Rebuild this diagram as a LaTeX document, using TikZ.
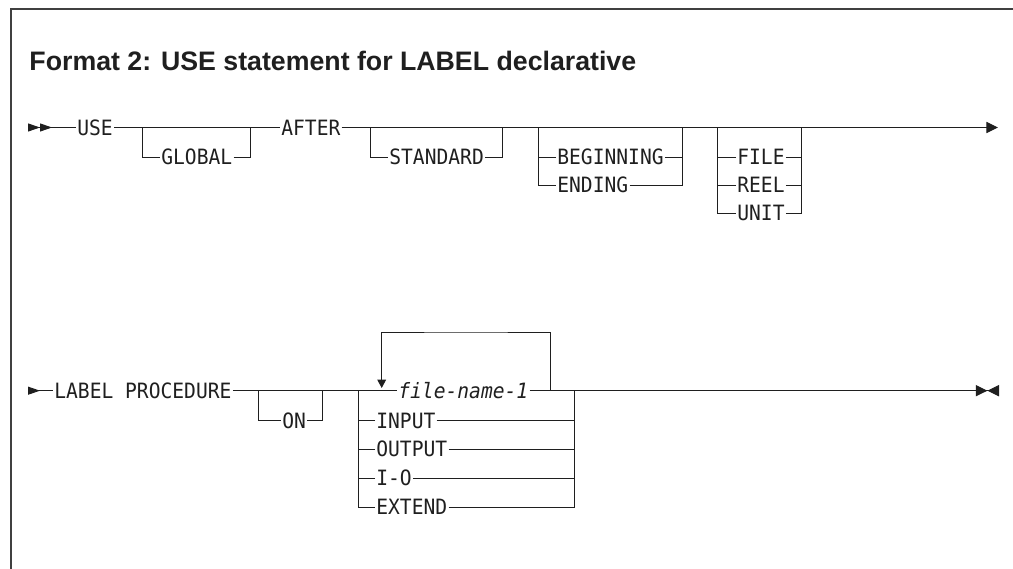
\documentclass[tikz,border=0pt]{standalone}
\usepackage{fontspec}
\setmainfont{Liberation Sans}
\newfontfamily\railfont{DejaVu Sans Mono}[FakeStretch=0.93, ItalicFont={DejaVu Sans Mono Oblique}]
\usepackage{tikz}
\usetikzlibrary{
  arrows.meta   % Triangle tips at the ends of the rails
}

\tikzset{
  railtip/.tip={Triangle[length=0.29cm,width=0.28cm]},
  railback/.tip={Triangle[reversed,length=0.3cm,width=0.2cm]},
  endback/.tip={Triangle[reversed,length=0.29cm,width=0.28cm]},
  looptip/.tip={Triangle[length=0.21cm,width=0.22cm]},
  kw/.style={font=\railfont\fontsize{15pt}{17pt}\selectfont,
    inner xsep=0.6pt, inner ysep=0pt, text height=10.9pt, text depth=0pt,
    anchor=west},
  title/.style={font=\bfseries\fontsize{19pt}{22pt}\selectfont,
    inner sep=0pt, anchor=base west},
  frame/.style={line width=0.9pt, black!75}
}

\begin{document}
\begin{tikzpicture}[x=0.025cm, y=-0.025cm, line width=0.7pt, color=black!88]
  \useasboundingbox (0,0) rectangle (1013,569);

  % Frame, cut off on the right and at the bottom
  \draw[frame] (11,569) -- (11,9) -- (1013,9);

  % Heading
  \node[title] (head) at (29,71) {Format 2: USE statement for LABEL declarative};

  % ---- first rail ----
  \coordinate (start1) at (28,127.5);
  \coordinate (end1) at (998,127.5);
  \node[kw] (use) at (76,127.5) {USE};
  \node[kw] (global) at (160,157) {GLOBAL};
  \node[kw] (after) at (280,127.5) {AFTER};
  \node[kw] (standard) at (388,157) {STANDARD};
  \node[kw] (beginning) at (556,157) {BEGINNING};
  \node[kw] (ending) at (556,185) {ENDING};
  \node[kw] (file) at (736,157) {FILE};
  \node[kw] (reel) at (736,185) {REEL};
  \node[kw] (unit) at (736,213) {UNIT};

  % Junctions on the main line
  \coordinate (g1) at (142.7,127.5);
  \coordinate (g2) at (250,127.5);
  \coordinate (s1) at (370,127.5);
  \coordinate (s2) at (502,127.5);
  \coordinate (b1) at (538,127.5);
  \coordinate (b2) at (682,127.5);
  \coordinate (f1) at (717,127.5);
  \coordinate (f2) at (801,127.5);

  % Main line
  \draw[{railback[]railback[]}-] (start1) -- (use.west);
  \draw (use.east) -- (after.west);
  \draw[-{railtip}] (after.east) -- (end1);

  % Optional GLOBAL and STANDARD
  \draw (g1) |- (global.west);
  \draw (global.east) -| (g2);
  \draw (s1) |- (standard.west);
  \draw (standard.east) -| (s2);

  % BEGINNING / ENDING
  \draw (b1) |- (ending.west);
  \draw (ending.east) -| (b2);
  \draw (beginning.west) -- (beginning.west -| b1);
  \draw (beginning.east) -- (beginning.east -| b2);

  % FILE / REEL / UNIT
  \draw (f1) |- (unit.west);
  \draw (unit.east) -| (f2);
  \foreach \n in {file,reel} {
    \draw (\n.west) -- (\n.west -| f1);
    \draw (\n.east) -- (\n.east -| f2);
  }

  % ---- second rail ----
  \coordinate (start2) at (28,390.7);
  \coordinate (end2) at (999,390.7);
  \node[kw] (label) at (53,390.7) {LABEL PROCEDURE};
  \node[kw] (on) at (281,420.7) {ON};
  \node[kw] (fname) at (397,390.7) {\itshape file-name-1};
  \node[kw] (input) at (375,420.7) {INPUT};
  \node[kw] (output) at (375,449) {OUTPUT};
  \node[kw] (io) at (375,478) {I-O};
  \node[kw] (extend) at (375,507) {EXTEND};

  % Junctions on the main line
  \coordinate (o1) at (258,390.7);
  \coordinate (o2) at (322,390.7);
  \coordinate (c1) at (358,390.7);
  \coordinate (c2) at (574,390.7);
  \coordinate (loopr) at (550,390.7);
  \coordinate (looptop) at (466,332);
  \coordinate (loopl) at (381.7,388);

  % Main line
  \draw[{railback[]}-] (start2) -- (label.west);
  \draw (label.east) -- (fname.west);
  \draw[-{railtip[]endback[]}] (fname.east) -- (end2);

  % Optional ON
  \draw (o1) |- (on.west);
  \draw (on.east) -| (o2);

  % Choice of files, file-name-1 may repeat
  \draw (c1) |- (extend.west);
  \draw (extend.east) -| (c2);
  \foreach \n in {input,output,io} {
    \draw (\n.west) -- (\n.west -| c1);
    \draw (\n.east) -- (\n.east -| c2);
  }
  \draw[-{looptip}] (loopr) |- (looptop) -| (loopl);
\end{tikzpicture}
\end{document}
